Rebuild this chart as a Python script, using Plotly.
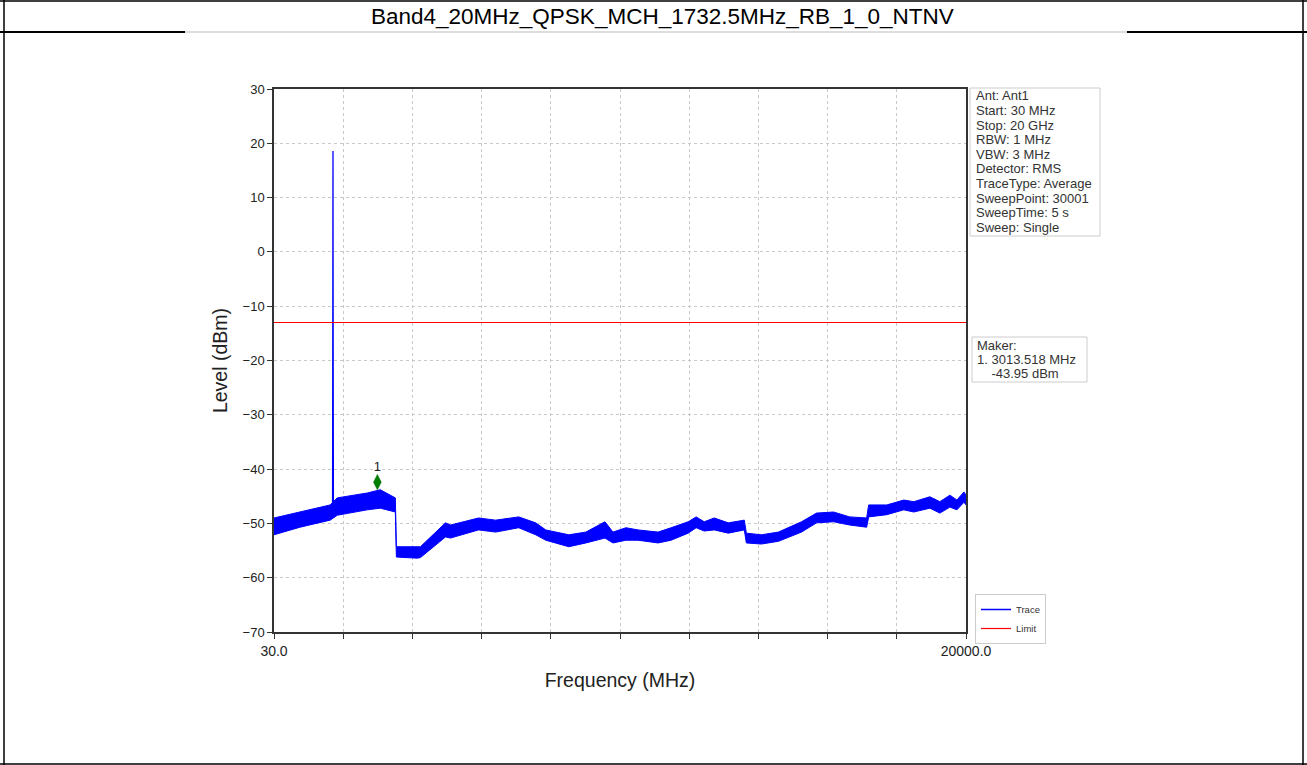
import plotly.graph_objects as go

# ---------------- data ----------------
band_freq = [30, 782, 1651, 1853, 2721, 3098, 3532, 3561, 4168, 4255, 4979, 5123,
             5934, 6426, 7091, 7583, 7873, 8538, 9030, 9580, 9812, 10188, 10535,
             11114, 11490, 11982, 12213, 12445, 12735, 13140, 13603, 13661, 14095,
             14587, 15253, 15687, 16179, 16642, 17133, 17191, 17712, 18204, 18494,
             18957, 19246, 19535, 19738, 19941, 20000]
band_upper = [-49.0, -47.9, -46.6, -45.3, -44.4, -43.8, -45.3, -54.3, -54.4, -54.3, -49.9, -50.3,
              -49.0, -49.4, -48.8, -49.9, -51.2, -52.1, -51.6, -49.7, -51.6, -50.8, -51.2,
              -51.6, -50.8, -49.7, -48.8, -49.7, -49.0, -49.9, -49.4, -51.8, -52.1,
              -51.6, -49.7, -48.1, -47.9, -48.8, -49.0, -46.6, -46.6, -45.7, -46.0,
              -45.1, -46.0, -44.8, -45.7, -44.2, -44.8]
band_lower = [-52.1, -50.7, -49.4, -48.5, -47.5, -47.2, -47.9, -56.2, -56.4, -56.3, -52.5, -52.7,
              -51.2, -51.6, -50.8, -52.1, -53.1, -54.3, -53.6, -52.7, -53.6, -53.1, -53.1,
              -53.6, -53.1, -51.8, -50.8, -51.4, -51.2, -51.8, -51.2, -53.6, -53.8,
              -53.3, -51.6, -49.9, -49.7, -50.3, -50.7, -48.8, -48.4, -47.5, -47.9,
              -47.2, -48.1, -47.0, -47.5, -46.1, -46.6]

spike_freq = [1720, 1726, 1732.5, 1739, 1745]
spike_level = [-47.6, -26.0, 18.6, -26.5, -47.6]

limit_freq = [30, 20000]
limit_level = [-13, -13]

marker_freq = [3013.518]
marker_level = [-42.4]
marker_label = ["1"]

x_tickvals = [30, 2027, 4024, 6021, 8018, 10015, 12012, 14009, 16006, 18003, 20000]
x_ticktext = ["30.0", "", "", "", "", "", "", "", "", "", "20000.0"]
y_tickvals = [-70, -60, -50, -40, -30, -20, -10, 0, 10, 20, 30]

title_text = "Band4_20MHz_QPSK_MCH_1732.5MHz_RB_1_0_NTNV"
info_lines = ["Ant: Ant1", "Start: 30 MHz", "Stop: 20 GHz", "RBW: 1 MHz", "VBW: 3 MHz",
              "Detector: RMS", "TraceType: Average", "SweepPoint: 30001",
              "SweepTime: 5 s", "Sweep: Single"]
marker_lines = ["Maker:", "1. 3013.518 MHz", "\u00a0\u00a0\u00a0\u00a0-43.95 dBm"]

# ---------------- layout geometry (pixels) ----------------
W, H = 1307, 765
L, R, T, B = 274, 966, 89, 632
PW, PH = R - L, B - T


def px(x):
    return (x - L) / PW


def py(y):
    return (B - y) / PH


BLUE = "#0000ff"
FONT = "Liberation Sans, Arial, sans-serif"
BOXTXT = "#333333"

fig = go.Figure()

# legend entries first (so the legend reads Trace, Limit)
fig.add_trace(go.Scatter(x=[None], y=[None], mode="lines", name="Trace",
                         line=dict(color=BLUE, width=1.5)))
# band (noise floor envelope)
fig.add_trace(go.Scatter(x=band_freq, y=band_lower, mode="lines",
                         line=dict(color=BLUE, width=1), showlegend=False, hoverinfo="skip"))
fig.add_trace(go.Scatter(x=band_freq, y=band_upper, mode="lines", fill="tonexty",
                         fillcolor=BLUE, line=dict(color=BLUE, width=1),
                         showlegend=False, hoverinfo="skip"))
# spike
fig.add_trace(go.Scatter(x=spike_freq, y=spike_level, mode="lines",
                         line=dict(color=BLUE, width=1.3), showlegend=False))
fig.add_trace(go.Scatter(x=limit_freq, y=limit_level, mode="lines", name="Limit",
                         line=dict(color="#ff0000", width=1.2)))
# marker
fig.add_trace(go.Scatter(x=marker_freq, y=marker_level, mode="markers+text",
                         text=marker_label, textposition="top center",
                         textfont=dict(size=13, color="#222", family=FONT),
                         marker=dict(symbol="diamond-tall", size=11, color="#008000",
                                     line=dict(color="#006400", width=0.5)),
                         showlegend=False))

shapes = []


def pline(x0, y0, x1, y1, color="black", width=1.5):
    shapes.append(dict(type="line", xref="paper", yref="paper", x0=px(x0), x1=px(x1),
                       y0=py(y0), y1=py(y1), line=dict(color=color, width=width)))


# page/table borders
pline(4, 0, 4, 765)
pline(1303, 0, 1303, 765)
pline(0, 1, 1307, 1)
pline(0, 764, 1307, 764)
pline(0, 32, 185, 32, width=2)
pline(1127, 32, 1307, 32, width=2)
pline(185, 32, 1127, 32, color="#bbbbbb", width=1)

# info boxes
shapes.append(dict(type="rect", xref="paper", yref="paper", x0=px(970), x1=px(1100),
                   y0=py(88), y1=py(236), line=dict(color="#cccccc", width=1), fillcolor="white",
                   layer="below"))
shapes.append(dict(type="rect", xref="paper", yref="paper", x0=px(972), x1=px(1087),
                   y0=py(337), y1=py(382), line=dict(color="#cccccc", width=1), fillcolor="white",
                   layer="below"))

annotations = []
annotations.append(dict(text=title_text, xref="paper", yref="paper", x=px(662), y=py(16),
                        showarrow=False, font=dict(size=22.5, color="black", family=FONT),
                        xanchor="center", yanchor="middle"))
for i, line in enumerate(info_lines):
    annotations.append(dict(text=line, xref="paper", yref="paper",
                            x=px(974), y=py(96 + 14.6 * i), xanchor="left", yanchor="middle",
                            showarrow=False, font=dict(size=13, color=BOXTXT, family=FONT)))
for i, line in enumerate(marker_lines):
    annotations.append(dict(text=line, xref="paper", yref="paper",
                            x=px(975), y=py(345 + 14 * i), xanchor="left", yanchor="middle",
                            showarrow=False, font=dict(size=13, color=BOXTXT, family=FONT)))

fig.update_layout(
    width=W, height=H,
    margin=dict(l=L, r=W - R, t=T, b=H - B, pad=0),
    paper_bgcolor="white", plot_bgcolor="white",
    font=dict(family=FONT, color="black"),
    shapes=shapes, annotations=annotations,
    legend=dict(x=px(975), y=py(594), xanchor="left", yanchor="top",
                font=dict(size=9.5, color="#333", family=FONT),
                bordercolor="#cccccc", borderwidth=1, bgcolor="white",
                itemwidth=30, tracegroupgap=0, traceorder="normal"),
    xaxis=dict(range=[30, 20000], tickvals=x_tickvals, ticktext=x_ticktext,
               showgrid=True, gridcolor="#c8c8c8", griddash="dot", gridwidth=1,
               showline=True, linecolor="#333", linewidth=1.5, mirror=True,
               ticks="outside", ticklen=5, tickcolor="#333",
               tickfont=dict(size=14, color="#222"), zeroline=False,
               title=dict(text="Frequency (MHz)", font=dict(size=19.5, color="#222"), standoff=16)),
    yaxis=dict(range=[-70, 30], tickvals=y_tickvals,
               showgrid=True, gridcolor="#c8c8c8", griddash="dot", gridwidth=1,
               showline=True, linecolor="#333", linewidth=1.5, mirror=True,
               ticks="outside", ticklen=5, tickcolor="#333",
               tickfont=dict(size=13, color="#222"), zeroline=False,
               title=dict(text="Level (dBm)", font=dict(size=19.5, color="#222"), standoff=10)),
)

fig.write_html("out.html", config={"displayModeBar": False},
               post_script="document.body.style.margin='0';")
